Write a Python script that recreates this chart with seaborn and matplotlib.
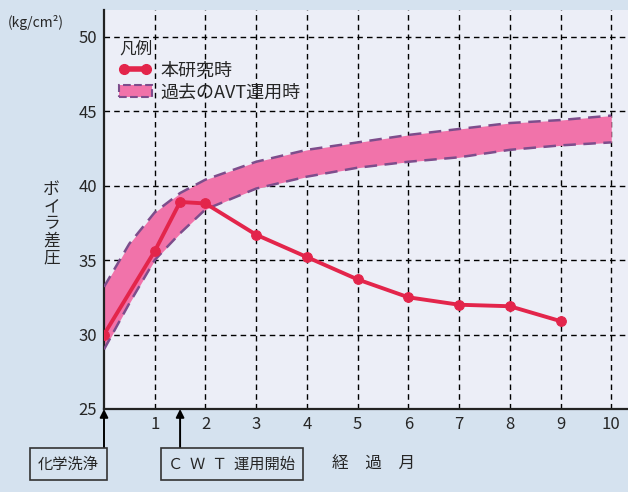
import seaborn as sns
import matplotlib.pyplot as plt
from matplotlib.lines import Line2D
from matplotlib.patches import Patch

# Data
months = [0, 1, 1.5, 2, 3, 4, 5, 6, 7, 8, 9]
pressure = [30.0, 35.6, 38.9, 38.8, 36.7, 35.2, 33.7, 32.5, 32.0, 31.9, 30.9]

band_months = [0, 0.5, 1, 1.5, 2, 3, 4, 5, 6, 7, 8, 9, 10]
band_upper = [33.2, 36.1, 38.2, 39.5, 40.4, 41.6, 42.4, 42.9, 43.4, 43.8, 44.2, 44.4, 44.7]
band_lower = [29.0, 32.1, 35.0, 36.8, 38.4, 39.8, 40.6, 41.2, 41.6, 41.9, 42.4, 42.7, 42.9]

x_ticks = [1, 2, 3, 4, 5, 6, 7, 8, 9, 10]
y_ticks = [25, 30, 35, 40, 45, 50]

sns.set_style('white')
plt.rcParams['font.family'] = ['Noto Sans CJK JP', 'DejaVu Sans']

bg = '#d5e2ef'
plot_bg = '#eceef7'
red = '#e3254b'
pink = '#f173aa'
purple = '#7d4d8c'

fig = plt.figure(figsize=(6.28, 4.92), dpi=100, facecolor=bg)
ax = fig.add_axes([0.1656, 0.1687, 0.8344, 0.8113])
ax.set_facecolor(plot_bg)

# past AVT band
ax.fill_between(band_months, band_lower, band_upper, color=pink, lw=0, zorder=2)
sns.lineplot(x=band_months, y=band_upper, ax=ax, color=purple, lw=1.8, zorder=3)
sns.lineplot(x=band_months, y=band_lower, ax=ax, color=purple, lw=1.8, zorder=3)
for ln in ax.lines:
    ln.set_dashes((5, 3))

# this study
sns.lineplot(x=months, y=pressure, ax=ax, color=red, lw=2.8, marker='o',
             markersize=7, markeredgecolor=red, zorder=5)

ax.set_xlim(0, 10.33)
ax.set_ylim(25, 51.8)
ax.set_xticks(x_ticks)
ax.set_xticklabels([str(t) for t in x_ticks], fontsize=12)
ax.set_yticks(y_ticks)
ax.set_yticklabels([str(t) for t in y_ticks], fontsize=12)
ax.tick_params(length=0, pad=5)
ax.grid(True, color='black', linestyle=(0, (4, 3)), lw=1, zorder=1)
ax.set_axisbelow(True)
for s in ['top', 'right']:
    ax.spines[s].set_visible(False)
for s in ['left', 'bottom']:
    ax.spines[s].set_color('#222222')
    ax.spines[s].set_linewidth(1.6)
ax.set_xlabel('')
ax.set_ylabel('')

# legend
handles = [
    Line2D([], [], color=red, lw=4, marker='o', markersize=7),
    Patch(facecolor=pink, edgecolor=purple, linestyle='--', lw=1.5),
]
leg = ax.legend(handles, ['本研究時', '過去のAVT運用時'], title='凡例', loc='upper left',
                bbox_to_anchor=(0.015, 0.94), frameon=False, fontsize=13,
                title_fontsize=12, handlelength=1.8, handletextpad=0.5,
                labelspacing=0.2, borderaxespad=0, numpoints=2)
leg._legend_box.align = 'left'

# axis texts
fig.text(0.013, 0.955, '(kg/cm²)', fontsize=10, ha='left', va='center')
fig.text(0.082, 0.545, '\n'.join('ボイラ差圧'), fontsize=12, ha='center', va='center',
         linespacing=1.0)
fig.text(0.595, 0.057, '経　過　月', fontsize=12, ha='center', va='center')

# event arrows and boxes
for xv in [0, 1.5]:
    ax.annotate('', xy=(xv, 0), xycoords=('data', 'axes fraction'),
                xytext=(xv, -0.1), textcoords=('data', 'axes fraction'),
                arrowprops=dict(arrowstyle='-|>', color='black', lw=1.4,
                                mutation_scale=12, shrinkA=0, shrinkB=0))
box = dict(boxstyle='square,pad=0.5', facecolor=bg, edgecolor='#333333', lw=1.2)
fig.text(0.109, 0.057, '化学洗浄', fontsize=11, ha='center', va='center', bbox=box)
fig.text(0.369, 0.057, 'Ｃ  Ｗ  Ｔ  運用開始', fontsize=11, ha='center', va='center',
         bbox=dict(boxstyle='square,pad=0.5', facecolor=bg, edgecolor='#333333', lw=1.2))

fig.savefig('out.png', dpi=100, facecolor=bg)
